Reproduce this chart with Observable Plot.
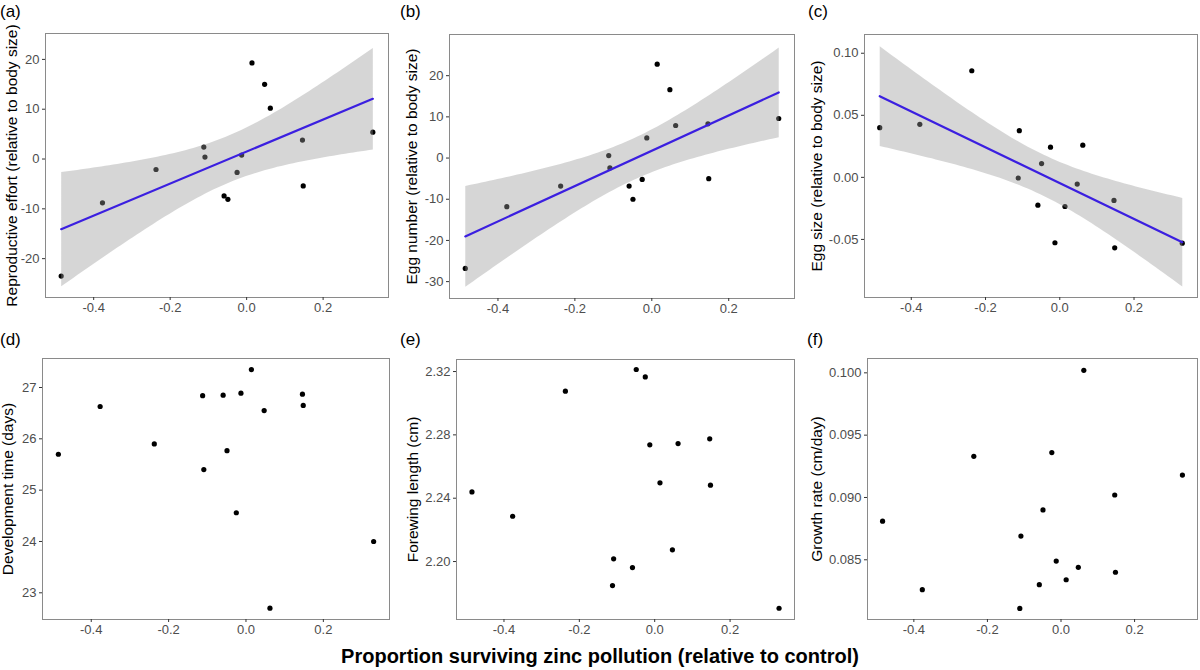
<!DOCTYPE html>
<html>
<head>
<meta charset="utf-8">
<script src="https://cdn.jsdelivr.net/npm/d3@7"></script>
<script src="https://cdn.jsdelivr.net/npm/@observablehq/plot@0.6"></script>
<style>
  html, body { margin: 0; padding: 0; background: #fff; }
  #fig { position: relative; width: 1200px; height: 670px; background: #fff; font-family: "Liberation Sans", Arial, sans-serif; overflow: hidden; }
  .panel { position: absolute; }
  .plabel { position: absolute; font-size: 17px; color: #000; line-height: 1; }
  #xtitle { position: absolute; left: 0; width: 1200px; top: 646px; text-align: center; font-weight: bold; font-size: 20px; color: #000; line-height: 1; }
</style>
</head>
<body>
<div id="fig"></div>
<script>
// ---- data ----
const survival = [-0.485, -0.377, -0.237, -0.112, -0.109, -0.059, -0.049, -0.025, -0.013, 0.014, 0.047, 0.062, 0.146, 0.148, 0.330];
const reproEffort = [-23.5, -8.8, -2.1, 2.4, 0.4, -7.4, -8.1, -2.7, 0.8, 19.3, 15.0, 10.2, 3.8, -5.4, 5.4];
const eggNumber = [-26.8, -11.8, -6.8, 0.6, -2.4, -6.8, -10.0, -5.2, 4.9, 22.8, 16.6, 7.9, 8.3, -5.0, 9.6];
const eggSize = [0.0400, 0.0427, 0.0859, -0.0005, 0.0376, -0.0224, 0.0111, 0.0243, -0.0527, -0.0235, -0.0054, 0.0259, -0.0186, -0.0568, -0.0530];
const devTime = [25.70, 26.63, 25.90, 26.84, 25.40, 26.85, 25.77, 24.56, 26.89, 27.35, 26.55, 22.70, 26.87, 26.65, 24.00];
const forewing = [2.2440, 2.2286, 2.3076, 2.1848, 2.2017, 2.1962, 2.3213, 2.3166, 2.2737, 2.2497, 2.2074, 2.2745, 2.2775, 2.2482, 2.1705];
const growthRate = [0.0881, 0.0826, 0.0933, 0.0811, 0.0869, 0.0830, 0.0890, 0.0936, 0.0849, 0.0834, 0.0844, 0.1002, 0.0902, 0.0840, 0.0918];

const xTicks = [-0.4, -0.2, 0.0, 0.2];
const xTitle = "Proportion surviving zinc pollution (relative to control)";

const panels = [
  {id: "(a)", values: reproEffort, title: "Reproductive effort (relative to body size)", fit: true,
   yTicks: [-20, -10, 0, 10, 20], digits: 0, yDomain: [-27.8, 25.2]},
  {id: "(b)", values: eggNumber, title: "Egg number (relative to body size)", fit: true,
   yTicks: [-30, -20, -10, 0, 10, 20], digits: 0, yDomain: [-34.1, 30.0]},
  {id: "(c)", values: eggSize, title: "Egg size (relative to body size)", fit: true,
   yTicks: [-0.05, 0.00, 0.05, 0.10], digits: 2, yDomain: [-0.0968, 0.1151]},
  {id: "(d)", values: devTime, title: "Development time (days)", fit: false,
   yTicks: [23, 24, 25, 26, 27], digits: 0, yDomain: [22.48, 27.565]},
  {id: "(e)", values: forewing, title: "Forewing length (cm)", fit: false,
   yTicks: [2.20, 2.24, 2.28, 2.32], digits: 2, yDomain: [2.1634, 2.3276]},
  {id: "(f)", values: growthRate, title: "Growth rate (cm/day)", fit: false,
   yTicks: [0.085, 0.090, 0.095, 0.100], digits: 3, yDomain: [0.08021, 0.10115]}
];

// ---- layout ----
const layout = [
  {left: 0,   top: 20,  width: 395, height: 300, mt: 13, mb: 23, ml: 45, mr: 7, titleDx: -33, lx: 0,   ly: 3},
  {left: 395, top: 20,  width: 405, height: 300, mt: 14, mb: 22, ml: 54, mr: 6, titleDx: -37, lx: 400, ly: 3},
  {left: 800, top: 20,  width: 400, height: 300, mt: 14, mb: 23, ml: 64, mr: 3, titleDx: -47, lx: 808, ly: 3},
  {left: 0,   top: 340, width: 395, height: 300, mt: 18, mb: 21, ml: 42, mr: 6, titleDx: -34, lx: 0,   ly: 331},
  {left: 395, top: 340, width: 405, height: 300, mt: 19, mb: 21, ml: 61, mr: 6, titleDx: -43, lx: 400, ly: 331},
  {left: 800, top: 340, width: 400, height: 300, mt: 18, mb: 21, ml: 67, mr: 3, titleDx: -50, lx: 807, ly: 331}
];

const xDomain = [-0.526, 0.371];
const fig = document.getElementById("fig");

panels.forEach((p, i) => {
  const L = layout[i];
  const data = survival.map((x, k) => ({x, y: p.values[k]}));
  const marks = [
    Plot.frame({stroke: "#8a8a8a", strokeWidth: 1}),
    Plot.axisX({ticks: xTicks, tickFormat: d => d.toFixed(1).replace("\u2212", "-"), tickSize: 3, tickPadding: 2,
                stroke: "#333", fill: "#4d4d4d", fontSize: 13, label: null}),
    Plot.axisY({ticks: p.yTicks, tickFormat: d => d.toFixed(p.digits), tickSize: 3, tickPadding: 3,
                stroke: "#333", fill: "#4d4d4d", fontSize: 13, label: null}),
    Plot.dot(data, {x: "x", y: "y", r: 2.6, fill: "#000", stroke: null})
  ];
  if (p.fit) {
    marks.push(Plot.linearRegressionY(data, {x: "x", y: "y", ci: 0.95, stroke: "#3b1fe0", strokeWidth: 2.2,
      fill: "#999999", fillOpacity: 0.4}));
  }
  marks.push(Plot.text([p.title], {frameAnchor: "left", dx: L.titleDx, rotate: -90, text: d => d,
    fontSize: 15.5, fill: "#000", textAnchor: "middle", lineAnchor: "middle"}));

  const chart = Plot.plot({
    width: L.width, height: L.height,
    marginLeft: L.ml, marginRight: L.mr, marginTop: L.mt, marginBottom: L.mb,
    x: {domain: xDomain},
    y: {domain: p.yDomain},
    style: {fontFamily: "'Liberation Sans', Arial, sans-serif", background: "transparent", overflow: "visible"},
    marks
  });
  const wrap = document.createElement("div");
  wrap.className = "panel";
  wrap.style.left = L.left + "px";
  wrap.style.top = L.top + "px";
  wrap.appendChild(chart);
  fig.appendChild(wrap);

  const lab = document.createElement("div");
  lab.className = "plabel";
  lab.style.left = L.lx + "px";
  lab.style.top = L.ly + "px";
  lab.textContent = p.id;
  fig.appendChild(lab);
});

const xt = document.createElement("div");
xt.id = "xtitle";
xt.textContent = xTitle;
fig.appendChild(xt);
</script>
</body>
</html>
